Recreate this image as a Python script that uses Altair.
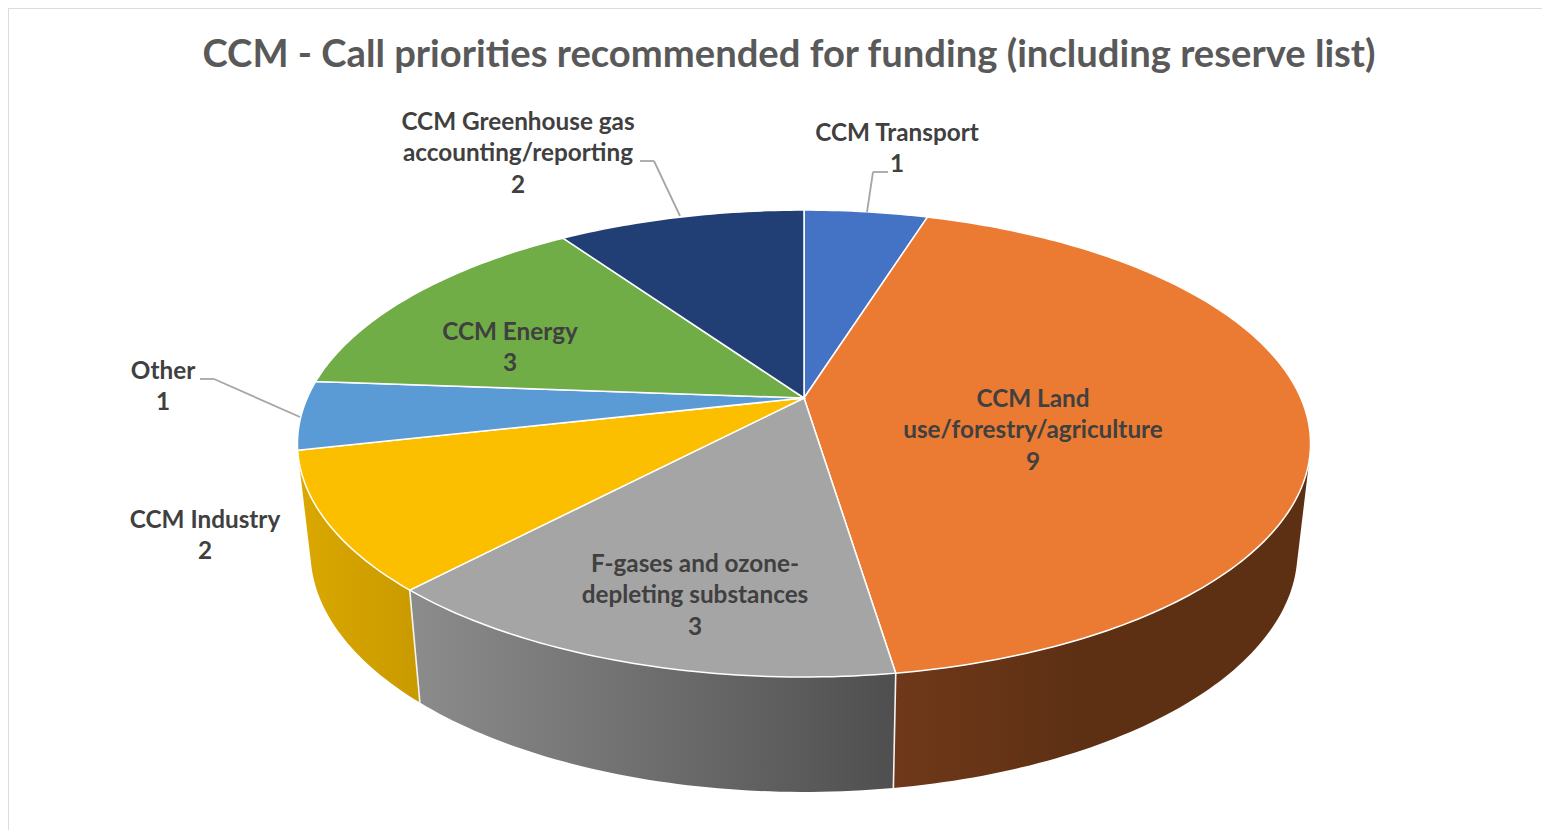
import math
import altair as alt

# ---- data ----
TITLE = "CCM - Call priorities recommended for funding (including reserve list)"
categories = ["CCM Transport", "CCM Land use/forestry/agriculture", "F-gases and ozone-depleting substances",
              "CCM Industry", "Other", "CCM Energy", "CCM Greenhouse gas accounting/reporting"]
values = [1, 9, 3, 2, 1, 3, 2]
top_colors = ["#4472c4", "#eb7b32", "#a5a5a5", "#fcbf00", "#5b9bd5", "#70ad47", "#223f75"]
label_lines = [["CCM Transport"], ["CCM Land", "use/forestry/agriculture"], ["F-gases and ozone-", "depleting substances"],
               ["CCM Industry"], ["Other"], ["CCM Energy"], ["CCM Greenhouse gas", "accounting/reporting"]]

W, H = 1534, 822
OX, OY = 8, 8
LABEL_FONT = "Lato"


def project(theta_deg, apex_y, a, b, p=0.195, apex_x=804):
    """Perspective view of a point on the rim of the pie's disc (page pixels -> chart pixels)."""
    t = math.radians(theta_deg)
    u, v = math.sin(t), math.cos(t)
    w = 1 + p * v
    return [apex_x + a * u / w - OX, apex_y - b * v / w - OY]


def top_pt(t):
    return project(t, 398, 496.8, 224.6)


def low_pt(t):
    return project(t, 505, 484, 231)


def steps(t0, t1, n_per_deg=1):
    n = max(2, int(abs(t1 - t0) * n_per_deg) + 1)
    return [t0 + (t1 - t0) * i / n for i in range(n + 1)]


def tri(p0, p1, p2):
    """Closed triangle ring, always wound the same way so that neighbours never cancel."""
    area = (p1[0] - p0[0]) * (p2[1] - p0[1]) - (p2[0] - p0[0]) * (p1[1] - p0[1])
    return [[p0, p1, p2, p0]] if area > 0 else [[p0, p2, p1, p0]]


total = sum(values)
bounds = [0]
for v in values:
    bounds.append(bounds[-1] + v / total * 360)

proj = alt.Projection(type="identity", scale=1, translate=[0, 0])


def feature(geom):
    return alt.Data(values=[{"type": "Feature", "geometry": geom, "properties": {}}], format=alt.DataFormat(type="json"))


def shape(geom, **mark):
    return alt.Chart(feature(geom)).mark_geoshape(**mark).project(**proj.to_dict())


def grad(stops):
    return alt.Gradient(gradient="linear", x1=0, y1=0, x2=1, y2=0,
                        stops=[alt.GradientStop(offset=o, color=c) for o, c in stops])


side_fills = {
    1: [(0, "#70381a"), (0.45, "#5d3013"), (1, "#5d3013")],
    2: [(0, "#8c8c8c"), (1, "#4f4f4f")],
    3: [(0, "#dba800"), (1, "#c99a00")],
}

layers = []

# side walls (front part only)
for i, stops in side_fills.items():
    t0, t1 = max(bounds[i], 92), bounds[i + 1]
    ts = steps(t0, t1)
    polys = []
    for a, b in zip(ts[:-1], ts[1:]):
        polys.append(tri(top_pt(a), top_pt(b), low_pt(b)))
        polys.append(tri(top_pt(a), low_pt(b), low_pt(a)))
    layers.append(shape({"type": "MultiPolygon", "coordinates": polys}, fill=grad(stops), stroke=None))

# seams between the walls
for i in (2, 3):
    t = bounds[i]
    layers.append(shape({"type": "LineString", "coordinates": [top_pt(t), low_pt(t)]},
                        filled=False, stroke="#f4f4f4", strokeWidth=1.6))

# top face
for i, c in enumerate(top_colors):
    ring = [[804 - OX, 398 - OY]] + [top_pt(t) for t in steps(bounds[i], bounds[i + 1])] + [[804 - OX, 398 - OY]]
    layers.append(shape({"type": "Polygon", "coordinates": [ring]}, fill=c, stroke="white", strokeWidth=1.5))

# frame of the picture
frame = alt.Chart(alt.Data(values=[{}]))
layers.append(frame.mark_rule(color="#dcdcdc", strokeWidth=2).encode(x=alt.value(0), x2=alt.value(W), y=alt.value(0)))
layers.append(frame.mark_rule(color="#dcdcdc", strokeWidth=2).encode(x=alt.value(0), y=alt.value(0), y2=alt.value(H)))

# leader lines
leaders = [
    [(640, 161), (654, 161), (680, 216)],
    [(888, 172), (873, 172), (867, 212)],
    [(200, 379), (214, 379), (300, 417)],
]
for path in leaders:
    for (x0, y0), (x1, y1) in zip(path[:-1], path[1:]):
        layers.append(frame.mark_rule(color="#a6a6a6", strokeWidth=1.8).encode(
            x=alt.value(x0 - OX), x2=alt.value(x1 - OX), y=alt.value(y0 - OY), y2=alt.value(y1 - OY)))

# data labels: centre x and first baseline on the page
label_pos = [(897, 141), (1033, 407), (695, 572), (205, 528), (163, 379), (510, 340), (518, 130)]
for lines, val, (lx, ly) in zip(label_lines, values, label_pos):
    text = "\n".join(lines + [str(val)])
    layers.append(alt.Chart(alt.Data(values=[{"t": text}])).mark_text(
        font=LABEL_FONT, fontSize=24.3, fontWeight="bold", color="#404040", align="center",
        baseline="alphabetic", lineBreak="\n", lineHeight=31.4).encode(
        text="t:N", x=alt.value(lx - OX), y=alt.value(ly - OY)))

chart = alt.layer(*layers).properties(
    width=W, height=H,
    padding=0,
    autosize=alt.AutoSizeParams(type="none"),
    background="white",
    title=alt.TitleParams(TITLE, anchor="middle", offset=0, dy=98, dx=14, baseline="alphabetic",
                          font=LABEL_FONT, fontSize=38.2, fontWeight="bold", color="#595959"),
).configure_view(stroke=None)

chart.save("out.html", embed_options={"renderer": "svg", "actions": False})
